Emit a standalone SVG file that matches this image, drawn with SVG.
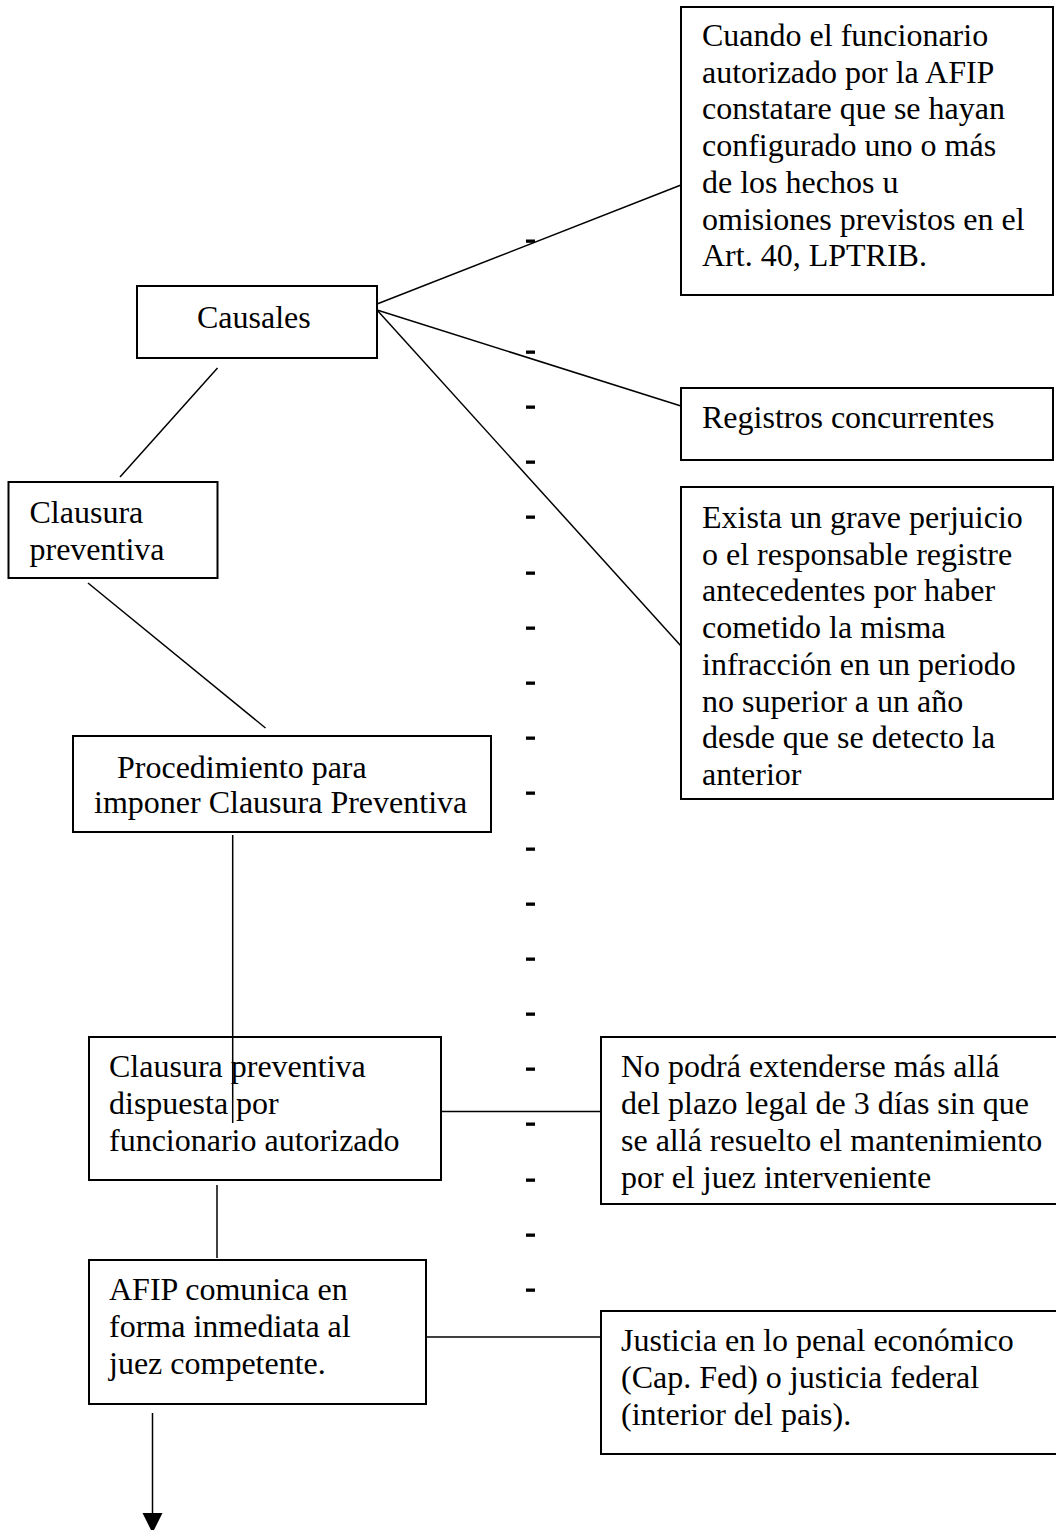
<svg xmlns="http://www.w3.org/2000/svg" width="1056" height="1530" viewBox="0 0 1056 1530">
<style>
.box{fill:#fff;stroke:#000;stroke-width:2}
.t{font-family:"Liberation Serif","Times New Roman",serif;font-size:32px;fill:#000}
.c{stroke:#000;stroke-width:1.5;fill:none}
.d{fill:#000}
</style>
<rect width="1056" height="1530" fill="#fff"/>
<g id="connectors">
<line class="c" x1="377" y1="304" x2="681" y2="185"/>
<line class="c" x1="377" y1="310" x2="681" y2="406"/>
<line class="c" x1="377" y1="310" x2="681" y2="646"/>
<line class="c" x1="217.5" y1="368" x2="120" y2="477"/>
<line class="c" x1="88" y1="583" x2="265.5" y2="728"/>
<line class="c" x1="232.7" y1="835" x2="232.7" y2="1123"/>
<line class="c" x1="441" y1="1111.5" x2="601" y2="1111.5"/>
<line class="c" x1="217" y1="1185" x2="217" y2="1258"/>
<line class="c" x1="426" y1="1337" x2="601" y2="1337"/>
<line class="c" x1="152.5" y1="1413" x2="152.5" y2="1515"/>
<polygon points="142.5,1513 162.5,1513 152.5,1533" fill="#000"/>
</g>
<g id="dashes">
<rect class="d" x="526" y="239.5" width="9" height="3.3"/>
<rect class="d" x="526" y="350.5" width="9" height="3.3"/>
<rect class="d" x="526" y="405.5" width="9" height="3.3"/>
<rect class="d" x="526" y="460.5" width="9" height="3.3"/>
<rect class="d" x="526" y="515.5" width="9" height="3.3"/>
<rect class="d" x="526" y="571.5" width="9" height="3.3"/>
<rect class="d" x="526" y="626.5" width="9" height="3.3"/>
<rect class="d" x="526" y="681.5" width="9" height="3.3"/>
<rect class="d" x="526" y="736.5" width="9" height="3.3"/>
<rect class="d" x="526" y="791.5" width="9" height="3.3"/>
<rect class="d" x="526" y="847.5" width="9" height="3.3"/>
<rect class="d" x="526" y="902.5" width="9" height="3.3"/>
<rect class="d" x="526" y="957.5" width="9" height="3.3"/>
<rect class="d" x="526" y="1012.5" width="9" height="3.3"/>
<rect class="d" x="526" y="1067.5" width="9" height="3.3"/>
<rect class="d" x="526" y="1122.5" width="9" height="3.3"/>
<rect class="d" x="526" y="1178.5" width="9" height="3.3"/>
<rect class="d" x="526" y="1233.5" width="9" height="3.3"/>
<rect class="d" x="526" y="1288.5" width="9" height="3.3"/>
</g>
<g id="n-cuando">
<rect class="box" x="681" y="7" width="372" height="288"/>
<text class="t" x="702" y="46">Cuando el funcionario</text>
<text class="t" x="702" y="82.7">autorizado por la AFIP</text>
<text class="t" x="702" y="119.4">constatare que se hayan</text>
<text class="t" x="702" y="156.1">configurado uno o más</text>
<text class="t" x="702" y="192.8">de los hechos u</text>
<text class="t" x="702" y="229.5">omisiones previstos en el</text>
<text class="t" x="702" y="266.2">Art. 40, LPTRIB.</text>
</g>
<g id="n-causales">
<rect class="box" x="137" y="286" width="240" height="72"/>
<text class="t" x="197" y="328">Causales</text>
</g>
<g id="n-registros">
<rect class="box" x="681" y="388" width="372" height="72"/>
<text class="t" x="702" y="428">Registros concurrentes</text>
</g>
<g id="n-exista">
<rect class="box" x="681" y="487" width="372" height="312"/>
<text class="t" x="702" y="528">Exista un grave perjuicio</text>
<text class="t" x="702" y="564.7">o el responsable registre</text>
<text class="t" x="702" y="601.4">antecedentes por haber</text>
<text class="t" x="702" y="638.1">cometido la misma</text>
<text class="t" x="702" y="674.8">infracción en un periodo</text>
<text class="t" x="702" y="711.5">no superior a un año</text>
<text class="t" x="702" y="748.2">desde que se detecto la</text>
<text class="t" x="702" y="784.9">anterior</text>
</g>
<g id="n-clausura">
<rect class="box" x="8.5" y="482" width="209" height="96"/>
<text class="t" x="29.5" y="523">Clausura</text>
<text class="t" x="29.5" y="560">preventiva</text>
</g>
<g id="n-procedimiento">
<rect class="box" x="73" y="736" width="418" height="96"/>
<text class="t" x="117" y="778">Procedimiento para</text>
<text class="t" x="94" y="813">imponer Clausura Preventiva</text>
</g>
<g id="n-dispuesta">
<rect class="box" x="89" y="1037" width="352" height="143"/>
<text class="t" x="109" y="1077">Clausura preventiva</text>
<text class="t" x="109" y="1114">dispuesta por</text>
<text class="t" x="109" y="1151">funcionario autorizado</text>
</g>
<line class="c" x1="232.7" y1="1037" x2="232.7" y2="1123"/>
<g id="n-plazo">
<rect class="box" x="601" y="1037" width="460" height="167"/>
<text class="t" x="621" y="1077">No podrá extenderse más allá</text>
<text class="t" x="621" y="1114">del plazo legal de 3 días sin que</text>
<text class="t" x="621" y="1151">se allá resuelto el mantenimiento</text>
<text class="t" x="621" y="1188">por el juez interveniente</text>
</g>
<g id="n-afip">
<rect class="box" x="89" y="1260" width="337" height="144"/>
<text class="t" x="109" y="1300">AFIP comunica en</text>
<text class="t" x="109" y="1337">forma inmediata al</text>
<text class="t" x="109" y="1374">juez competente.</text>
</g>
<g id="n-justicia">
<rect class="box" x="601" y="1311" width="460" height="143"/>
<text class="t" x="621" y="1351">Justicia en lo penal económico</text>
<text class="t" x="621" y="1388">(Cap. Fed) o justicia federal</text>
<text class="t" x="621" y="1425">(interior del pais).</text>
</g>
</svg>
